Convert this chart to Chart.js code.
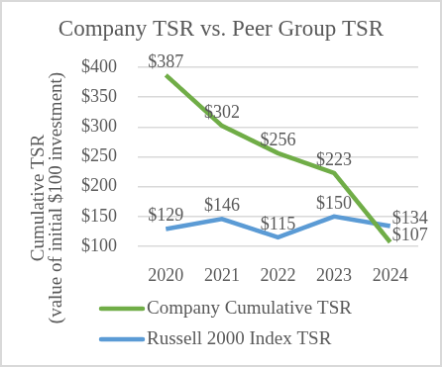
<!DOCTYPE html>
<html>
<head>
<meta charset="utf-8">
<script src="https://cdn.jsdelivr.net/npm/chart.js@4/dist/chart.umd.min.js"></script>
<style>
    html, body { margin: 0; padding: 0; background: #fff; }
    #tsrChart { display: block; border: 2px solid #d9d9d9; }
</style>
</head>
<body>
<canvas id="tsrChart" width="442" height="367"></canvas>
<script>
// Data
const years = ['2020', '2021', '2022', '2023', '2024'];
const companyTsr = [387, 302, 256, 223, 107];
const russellTsr = [129, 146, 115, 150, 134];
const seriesNames = ['Company Cumulative TSR', 'Russell 2000 Index TSR'];
const yTicks = [100, 150, 200, 250, 300, 350, 400];

const TEXT = '#595959';
const FONT = '"Liberation Serif", "Times New Roman", serif';
const TITLE = 'Company TSR vs. Peer Group TSR';

// where each point label sits: 'top' or 'right'
const labelPos = ['top', 'top', 'top', 'top', 'right'];

// point value labels ($387 etc.)
const valueLabels = {
    id: 'valueLabels',
    afterDatasetsDraw(chart) {
        const ctx = chart.ctx;
        ctx.save();
        ctx.font = '18px ' + FONT;
        ctx.fillStyle = TEXT;
        ctx.textBaseline = 'middle';
        chart.data.datasets.forEach((ds, i) => {
            const meta = chart.getDatasetMeta(i);
            meta.data.forEach((pt, j) => {
                const txt = '$' + ds.data[j];
                if (labelPos[j] === 'right') {
                    ctx.textAlign = 'left';
                    ctx.fillText(txt, pt.x + 2, pt.y - 7);
                } else {
                    ctx.textAlign = 'center';
                    ctx.fillText(txt, pt.x, pt.y - 13);
                }
            });
        });
        ctx.restore();
    }
};

// title, rotated two-line axis title and the line-swatch legend
const sideBits = {
    id: 'sideBits',
    afterDraw(chart) {
        const ctx = chart.ctx;
        ctx.save();
        ctx.fillStyle = TEXT;
        ctx.font = '23px ' + FONT;
        ctx.textAlign = 'center';
        ctx.textBaseline = 'middle';
        ctx.fillText(TITLE, chart.width / 2, 28);

        ctx.font = '19px ' + FONT;
        ctx.translate(46, 198);
        ctx.rotate(-Math.PI / 2);
        ctx.fillText('Cumulative TSR', 0, -9);
        ctx.fillText('(value of initial $100 investment)', 0, 9);
        ctx.restore();

        ctx.save();
        ctx.font = '19px ' + FONT;
        ctx.textAlign = 'left';
        ctx.textBaseline = 'middle';
        chart.data.datasets.forEach((ds, i) => {
            const y = 310 + i * 31;
            ctx.strokeStyle = ds.borderColor;
            ctx.lineWidth = 4.5;
            ctx.lineCap = 'round';
            ctx.beginPath();
            ctx.moveTo(100, y);
            ctx.lineTo(142, y);
            ctx.stroke();
            ctx.fillStyle = TEXT;
            ctx.fillText(ds.label, 146, y);
        });
        ctx.restore();
    }
};

new Chart(document.getElementById('tsrChart'), {
    type: 'line',
    data: {
        labels: years,
        datasets: [{
            label: seriesNames[0],
            data: companyTsr,
            borderColor: '#70AD47',
            borderWidth: 4.5,
            pointRadius: 0,
            tension: 0
        }, {
            label: seriesNames[1],
            data: russellTsr,
            borderColor: '#5B9BD5',
            borderWidth: 4.5,
            pointRadius: 0,
            tension: 0
        }]
    },
    options: {
        responsive: false,
        animation: false,
        layout: { padding: { left: 0, right: 22, top: 66, bottom: 80 } },
        plugins: {
            legend: { display: false },
            tooltip: { enabled: false },
            title: { display: false }
        },
        scales: {
            x: {
                offset: true,
                grid: { display: false },
                border: { display: false },
                ticks: { color: TEXT, font: { family: FONT, size: 18 }, padding: 11 },
                afterFit: s => { s.height = 40; }
            },
            y: {
                min: 100,
                max: 400,
                afterBuildTicks: s => { s.ticks = yTicks.map(v => ({ value: v })); },
                grid: { color: '#d9d9d9', lineWidth: 1.5, drawTicks: false },
                border: { display: false },
                ticks: {
                    color: TEXT,
                    font: { family: FONT, size: 18 },
                    padding: 21,
                    callback: v => '$' + v
                },
                afterFit: s => { s.width = 137; }
            }
        }
    },
    plugins: [valueLabels, sideBits]
});
</script>
</body>
</html>
